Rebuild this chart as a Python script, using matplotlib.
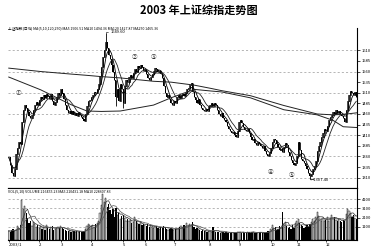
import numpy as np
import pandas as pd
import matplotlib
matplotlib.use("Agg")
import matplotlib.pyplot as plt

plt.rcParams["font.family"] = ["Noto Sans CJK SC", "DejaVu Sans"]
plt.rcParams["axes.unicode_minus"] = False

# ---------- DATA ----------
title = "2003 年上证综指走势图"
month_labels = ["2003/1", "2", "3", "4", "5", "6", "7", "8", "9", "10", "11", "12"]
month_starts = [0, 21, 36, 57, 79, 94, 114, 138, 159, 181, 199, 219]

# daily closes, one row per month
closes = [
    1358, 1340, 1320, 1315, 1330, 1365, 1380, 1395, 1390, 1440, 1470, 1482, 1475, 1465, 1455, 1450, 1458, 1470, 1482, 1488, 1480,
    1492, 1500, 1495, 1505, 1498, 1508, 1502, 1496, 1506, 1490, 1482, 1488, 1500, 1510, 1505,
    1518, 1510, 1495, 1480, 1470, 1462, 1468, 1460, 1466, 1458, 1462, 1455, 1465, 1458, 1452, 1448, 1444, 1460, 1478, 1490, 1492,
    1500, 1505, 1512, 1510, 1518, 1530, 1550, 1570, 1595, 1610, 1630, 1615, 1600, 1590, 1575, 1560, 1540, 1500, 1520, 1490, 1530, 1520,
    1485, 1525, 1540, 1535, 1548, 1552, 1545, 1556, 1565, 1560, 1572, 1568, 1575, 1570, 1562,
    1565, 1555, 1545, 1540, 1548, 1555, 1562, 1568, 1565, 1560, 1562, 1555, 1545, 1525, 1510, 1500, 1505, 1495, 1485, 1482,
    1490, 1487, 1500, 1504, 1498, 1505, 1508, 1502, 1510, 1518, 1522, 1528, 1532, 1512, 1500, 1492, 1485, 1495, 1482, 1475, 1470, 1468, 1472, 1466,
    1478, 1482, 1485, 1478, 1486, 1480, 1470, 1460, 1455, 1462, 1450, 1445, 1440, 1432, 1425, 1420, 1415, 1418, 1410, 1406, 1420,
    1440, 1445, 1438, 1430, 1422, 1420, 1425, 1415, 1405, 1398, 1400, 1392, 1388, 1395, 1390, 1385, 1380, 1384, 1372, 1365, 1360, 1368,
    1380, 1395, 1402, 1398, 1390, 1382, 1375, 1378, 1370, 1382, 1392, 1388, 1370, 1360, 1352, 1345, 1340, 1345,
    1360, 1395, 1375, 1355, 1350, 1345, 1338, 1330, 1322, 1315, 1318, 1330, 1338, 1350, 1372, 1385, 1395, 1405, 1415, 1425,
    1420, 1432, 1445, 1452, 1458, 1465, 1460, 1470, 1462, 1468, 1460, 1455, 1450, 1442, 1470, 1490, 1505, 1515, 1510, 1505, 1512, 1500,
]

volumes = [
    700, 600, 800, 900, 650, 750, 1200, 1000, 1300, 4000, 3000, 3400, 2600, 2100, 1500, 1800, 1200, 1600, 1400, 1100, 1300,
    1000, 1200, 900, 1100, 800, 1300, 1000, 900, 1100, 1200, 800, 900, 1000, 1100, 950,
    1200, 1000, 900, 800, 700, 650, 750, 600, 700, 650, 600, 700, 600, 650, 550, 600, 650, 900, 1200, 1400, 1300,
    1200, 1300, 1100, 1400, 1500, 1800, 2600, 3500, 4700, 3800, 4200, 3300, 3600, 2900, 2500, 3000, 2200, 3200, 2400, 2600, 2000, 2300,
    2400, 2100, 1800, 2000, 1700, 1900, 1500, 1600, 2200, 1700, 1500, 1400, 1600, 1300, 1400,
    1300, 1200, 1400, 1100, 1300, 1200, 1000, 1100, 1200, 1000, 900, 1100, 1000, 1200, 1100, 900, 800, 900, 1000, 850,
    800, 900, 850, 1000, 1100, 1200, 1000, 1300, 1100, 1500, 1200, 1400, 1300, 1600, 1100, 900, 1000, 850, 800, 700, 750, 650, 700, 600,
    650, 700, 600, 1100, 650, 600, 550, 600, 500, 550, 600, 500, 550, 500, 450, 500, 550, 500, 450, 500, 600,
    550, 600, 500, 550, 450, 500, 600, 550, 500, 600, 550, 500, 450, 500, 550, 600, 500, 450, 500, 550, 700, 600,
    900, 1300, 1000, 1100, 800, 900, 1200, 1000, 2700, 1400, 1600, 1200, 1000, 1100, 900, 1300, 1000, 1500,
    1700, 2000, 1500, 1300, 1200, 1000, 1100, 1300, 1100, 1400, 1600, 2000, 1800, 2200, 2700, 2300, 2000, 1800, 2100, 1700,
    1900, 2200, 1800, 2100, 2400, 2000, 2200, 1900, 1700, 2000, 1800, 1600, 1900, 1700, 2500, 3000, 2800, 2600, 2200, 2400, 2100, 2000,
]

# a few long wicks that stick out of the bodies
wick_days = [67, 74, 79, 208]
wick_vals = [1649.60, 1478, 1475, 1307.40]

# long moving averages
ma_days = [0, 22, 43, 54, 64, 77, 100, 112, 128, 140, 147, 167, 190, 213, 224, 231, 241]
ma120 = [1547, 1517, 1482, 1467, 1466, 1467, 1481, 1498, 1518, 1514, 1512, 1498, 1470, 1458, 1445, 1430, 1428]
ma250 = [1568, 1560, 1554, 1551, 1548, 1545, 1537, 1535, 1528, 1520, 1515, 1503, 1480, 1460, 1458, 1459, 1463]

price_ticks = [1310, 1335, 1360, 1385, 1410, 1435, 1460, 1485, 1510, 1535, 1560, 1585, 1610]
vol_ticks = [1100, 2100, 3100, 4100]

# ---------- PREP ----------
df = pd.DataFrame({"close": closes, "vol": volumes})
df["open"] = df["close"].shift(1).fillna(df["close"].iloc[0])
df["high"] = df[["open", "close"]].max(axis=1)
df["low"] = df[["open", "close"]].min(axis=1)
for d, v in zip(wick_days, wick_vals):
    df.loc[d, "high"] = max(df.loc[d, "high"], v)
    df.loc[d, "low"] = min(df.loc[d, "low"], v)
df["ma5"] = df["close"].rolling(5, min_periods=1).mean()
df["ma10"] = df["close"].rolling(10, min_periods=1).mean()
df["vma5"] = df["vol"].rolling(5, min_periods=1).mean()
df["vma10"] = df["vol"].rolling(10, min_periods=1).mean()
x = np.arange(len(df))
up = df["close"] >= df["open"]

# ---------- PLOTTING ----------
fig = plt.figure(figsize=(3.83, 2.5), dpi=100)
ax = fig.add_axes([0.021, 0.248, 0.911, 0.64])
axv = fig.add_axes([0.021, 0.04, 0.911, 0.208], sharex=ax)

fig.text(0.52, 0.96, title, ha="center", va="center", fontsize=8, fontweight="bold")

# price panel
for t in price_ticks[::2]:
    ax.axhline(t, color="#999999", lw=0.5, ls=(0, (3, 3)), zorder=0)
ax.vlines(x, df["low"], df["high"], color="black", lw=0.6)
ax.bar(x[up], (df["close"] - df["open"])[up].clip(lower=0.8), bottom=df["open"][up],
       width=0.8, facecolor="white", edgecolor="black", lw=0.5)
ax.bar(x[~up], (df["open"] - df["close"])[~up], bottom=df["close"][~up],
       width=0.8, color="black", lw=0)
ax.plot(x, df["ma5"], color="black", lw=0.6)
ax.plot(x, df["ma10"], color="#222222", lw=0.6)
ax.plot(ma_days, ma120, color="#222222", lw=0.7)
ax.plot(ma_days, ma250, color="#222222", lw=0.7)

ax.annotate("1649.60", xy=(67, 1649.6), xytext=(70.5, 1652), fontsize=3,
            va="center", arrowprops=dict(arrowstyle="-", lw=0.4, connectionstyle="angle,angleA=0,angleB=90"))
ax.text(208, 1304, "←1307.40", fontsize=3, ha="left", va="center")
for lab, d, p in [("①", 7, 1509), ("②", 87, 1592), ("③", 100, 1592), ("④", 181, 1323), ("⑤", 195, 1314)]:
    ax.text(d, p, lab, fontsize=4, ha="center", va="center", color="#333333")

ax.set_xlim(-0.5, len(df) - 0.5)
ax.set_ylim(1285.7, 1662.5)
ax.yaxis.tick_right()
ax.set_yticks(price_ticks)
ax.set_yticklabels([str(t) for t in price_ticks])
ax.tick_params(axis="y", labelsize=3, length=2, width=0.5, pad=1.5)
ax.tick_params(axis="x", bottom=False, labelbottom=False)
ax.spines["top"].set_visible(False)
ax.spines["left"].set_visible(False)
ax.spines["right"].set_linewidth(0.8)
ax.spines["bottom"].set_linewidth(0.8)
ax.text(0.0, 1.0, "上证指数(日线) MA(5,10,120,250) MA5 1506.51 MA10 1494.36 MA120 1427.87 MA250 1465.36",
        transform=ax.transAxes, fontsize=2.6, ha="left", va="center")

# volume panel
for t in vol_ticks:
    axv.axhline(t, color="#999999", lw=0.5, ls=(0, (3, 3)), zorder=0)
vbot = -300
axv.bar(x[up], df["vol"][up] - vbot, bottom=vbot, width=0.8, facecolor="#dddddd", edgecolor="black", lw=0.3)
axv.bar(x[~up], df["vol"][~up] - vbot, bottom=vbot, width=0.85, color="black", lw=0)
axv.plot(x, df["vma5"], color="#333333", lw=0.5)
axv.plot(x, df["vma10"], color="#555555", lw=0.5)
axv.set_ylim(vbot, 5300)
axv.yaxis.tick_right()
axv.set_yticks(vol_ticks)
axv.set_yticklabels([str(t) for t in vol_ticks])
axv.tick_params(axis="y", labelsize=3, length=2, width=0.5, pad=1.5)
axv.set_xticks(month_starts)
axv.set_xticklabels(month_labels, ha="left")
axv.tick_params(axis="x", labelsize=3, length=1.5, width=0.5, pad=0.5)
axv.spines["left"].set_visible(False)
axv.spines["top"].set_linewidth(0.8)
axv.spines["right"].set_linewidth(0.8)
axv.spines["bottom"].set_linewidth(0.8)
axv.text(0.0, 0.97, "VOL(5,10) VOLUME 216455.23 MA5 210431.18 MA10 228607.83",
         transform=axv.transAxes, fontsize=2.6, ha="left", va="top")

fig.savefig("out.png", dpi=100)
